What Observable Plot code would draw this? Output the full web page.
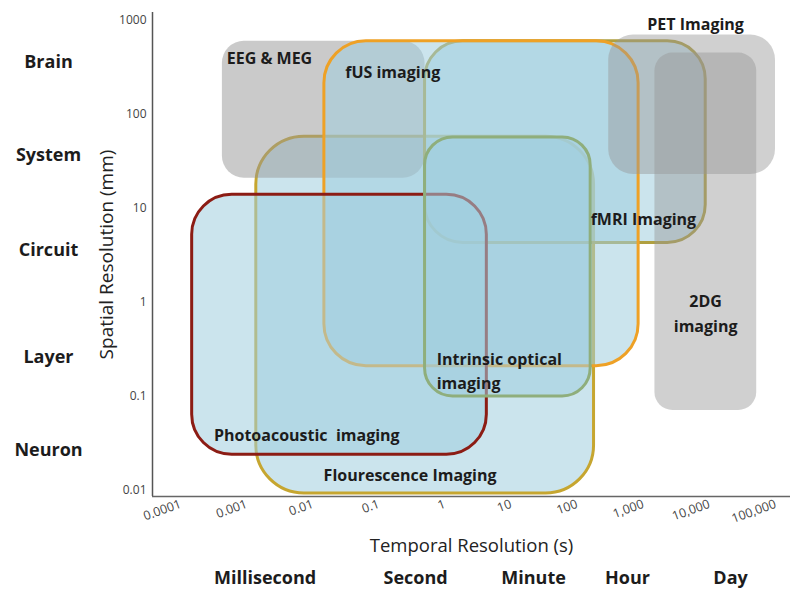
<!DOCTYPE html>
<html><head><meta charset="utf-8">
<script src="https://cdn.jsdelivr.net/npm/d3@7"></script>
<script src="https://cdn.jsdelivr.net/npm/@observablehq/plot@0.6"></script>
<style>
html,body{margin:0;padding:0;background:#fff;}
#chart svg{display:block;}
</style></head><body><div id="chart"></div>
<script>
// ---- data (drawn bottom to top) ----
const techniques   = ["Flourescence Imaging","EEG & MEG","fMRI Imaging","fUS imaging","Photoacoustic imaging","Intrinsic optical imaging","PET Imaging","2DG imaging"];
const temporalMin  = [0.0014, 0.00043, 0.5, 0.015, 0.00015, 0.5, 300, 1500];
const temporalMax  = [180, 0.5, 8800, 850, 4.3, 160, 100000, 52000];
const spatialMin   = [0.0093, 21, 4.3, 0.21, 0.024, 0.1, 23, 0.071];
const spatialMax   = [58, 600, 600, 600, 14, 57, 700, 450];

const labelText     = ["Flourescence Imaging","EEG & MEG","fMRI Imaging","fUS imaging","Photoacoustic  imaging","Intrinsic optical\nimaging","PET Imaging","2DG\nimaging"];
const labelTemporal = [0.0146, 0.0005, 160, 0.031, 0.00032, 0.75, 6180, 8770];
const labelSpatial  = [0.0155, 414, 8.2, 294, 0.041, 0.196, 953, 0.81];

const levels        = ["Brain","System","Circuit","Layer","Neuron"];
const levelSpatial  = [357, 36.6, 3.57, 0.26, 0.0267];

const timescales    = ["Millisecond","Second","Minute","Hour","Day"];
const timescaleTemporal = [0.0019, 0.36, 21.9, 578, 20900];

const xTicks      = [0.0001,0.001,0.01,0.1,1,10,100,1000,10000,100000];
const xTickLabels = ["0.0001","0.001","0.01","0.1","1","10","100","1,000","10,000","100,000"];
const yTicks      = [0.01,0.1,1,10,100,1000];
const yTickLabels = ["0.01","0.1","1","10","100","1000"];

const xTitle = "Temporal Resolution (s)";
const yTitle = "Spatial Resolution (mm)";

const xDomain = [Math.pow(10,-4.424), Math.pow(10,5.227)];
const yDomain = [Math.pow(10,-2.064), Math.pow(10,3.085)];

// ---- styles ----
const blue = "rgb(160,205,222)";
const gray = "rgb(150,150,150)";
const styles = {
  "Flourescence Imaging":      {fill: blue, fillOpacity: 0.55, stroke: "#c6a630", strokeWidth: 3, rx: 48},
  "EEG & MEG":                 {fill: gray, fillOpacity: 0.5,  stroke: "none", rx: 22},
  "fMRI Imaging":              {fill: blue, fillOpacity: 0.55, stroke: "#b0a040", strokeWidth: 3, rx: 38},
  "fUS imaging":               {fill: blue, fillOpacity: 0.55, stroke: "#eea126", strokeWidth: 3, rx: 42},
  "Photoacoustic imaging":     {fill: blue, fillOpacity: 0.55, stroke: "#8c1c14", strokeWidth: 3, rx: 40},
  "Intrinsic optical imaging": {fill: blue, fillOpacity: 0.55, stroke: "#8fae7c", strokeWidth: 3, rx: 28},
  "PET Imaging":               {fill: gray, fillOpacity: 0.45, stroke: "none", rx: 25},
  "2DG imaging":               {fill: gray, fillOpacity: 0.45, stroke: "none", rx: 18}
};
const centeredLabels = new Set(["PET Imaging","2DG\nimaging"]);

const rows = techniques.map((name, i) => ({name, t0: temporalMin[i], t1: temporalMax[i], s0: spatialMin[i], s1: spatialMax[i]}));
const labels = labelText.map((text, i) => ({text, t: labelTemporal[i], s: labelSpatial[i]}));
const levelRows = levels.map((text, i) => ({text, s: levelSpatial[i]}));
const timeRows = timescales.map((text, i) => ({text, t: timescaleTemporal[i]}));

const font = "'Open Sans', 'Noto Sans', sans-serif";

const marks = [];
for (const r of rows) {
  marks.push(Plot.rect([r], {x1: "t0", x2: "t1", y1: "s0", y2: "s1", ...styles[r.name]}));
}
marks.push(
  Plot.ruleX([xDomain[0]], {y1: yDomain[0], y2: yDomain[1], stroke: "#555", strokeWidth: 1.5}),
  Plot.ruleY([yDomain[0]], {stroke: "#666", strokeWidth: 1.5}),
  Plot.axisY({ticks: yTicks, tickFormat: d => yTickLabels[yTicks.indexOf(d)], tickSize: 0, tickPadding: 6, fontSize: 12, label: null, fill: "#444"}),
  Plot.axisX({ticks: xTicks, tickFormat: d => xTickLabels[xTicks.indexOf(d)], tickSize: 0, tickPadding: 7, tickRotate: -20, fontSize: 12.5, label: null, fill: "#444"}),
  Plot.text(labels.filter(d => !centeredLabels.has(d.text)), {x: "t", y: "s", text: "text", textAnchor: "start", fontSize: 16, fontWeight: "bold", fill: "#1c1c1c", lineHeight: 1.56}),
  Plot.text(labels.filter(d => centeredLabels.has(d.text)), {x: "t", y: "s", text: "text", textAnchor: "middle", fontSize: 16, fontWeight: "bold", fill: "#1c1c1c", lineHeight: 1.56}),
  Plot.text(levelRows, {y: "s", text: "text", frameAnchor: "left", dx: -104, textAnchor: "middle", lineAnchor: "middle", fontSize: 18, fontWeight: "bold", fill: "#1c1c1c"}),
  Plot.text(timeRows, {x: "t", text: "text", frameAnchor: "bottom", dy: 82, textAnchor: "middle", lineAnchor: "middle", fontSize: 18, fontWeight: "bold", fill: "#1c1c1c"}),
  Plot.text([xTitle], {frameAnchor: "bottom", dy: 50, textAnchor: "middle", lineAnchor: "middle", fontSize: 18.5, fill: "#222"}),
  Plot.text([yTitle], {frameAnchor: "left", dx: -46, rotate: -90, textAnchor: "middle", lineAnchor: "middle", fontSize: 19, fill: "#222"})
);

const chart = Plot.plot({
  width: 790, height: 601,
  marginLeft: 152, marginRight: 0, marginTop: 12, marginBottom: 105,
  style: {fontFamily: font, background: "#fff"},
  x: {type: "log", domain: xDomain},
  y: {type: "log", domain: yDomain},
  marks
});
document.getElementById("chart").appendChild(chart);
</script></body></html>
